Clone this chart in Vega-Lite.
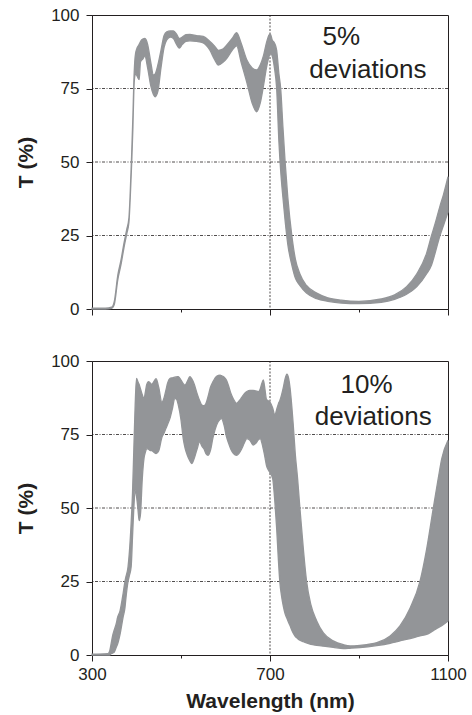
{
  "$schema": "https://vega.github.io/schema/vega-lite/v6.json",
  "background": "white",
  "padding": {"left": 15, "top": 5, "right": 0, "bottom": 0},
  "bounds": "flush",
  "spacing": 52,
  "config": {
    "font": "Liberation Sans",
    "view": {"stroke": "#231f20", "strokeWidth": 1},
    "axis": {
      "grid": false,
      "domainColor": "#231f20",
      "tickColor": "#231f20",
      "labelColor": "#231f20",
      "titleColor": "#231f20",
      "labelFontSize": 17,
      "titleFontSize": 21,
      "titleFontWeight": "bold",
      "labelFont": "Liberation Sans",
      "titleFont": "Liberation Sans"
    },
    "scale": {"zero": false}
  },
  "datasets": {
    "top": [
      {"wl": 300, "lo": 0, "hi": 0.3},
      {"wl": 330, "lo": 0, "hi": 0.3},
      {"wl": 344, "lo": 0.2, "hi": 0.6},
      {"wl": 350, "lo": 1.5, "hi": 2.5},
      {"wl": 358, "lo": 10, "hi": 11.5},
      {"wl": 365, "lo": 15, "hi": 16.5},
      {"wl": 372, "lo": 21, "hi": 22.5},
      {"wl": 378, "lo": 25.5, "hi": 27},
      {"wl": 383, "lo": 29.5, "hi": 31},
      {"wl": 386, "lo": 38, "hi": 40},
      {"wl": 389, "lo": 49, "hi": 52},
      {"wl": 392, "lo": 62, "hi": 66},
      {"wl": 394, "lo": 74, "hi": 77},
      {"wl": 396, "lo": 79, "hi": 84},
      {"wl": 398, "lo": 80, "hi": 87},
      {"wl": 402, "lo": 79, "hi": 89},
      {"wl": 406, "lo": 78, "hi": 90},
      {"wl": 409, "lo": 84, "hi": 91},
      {"wl": 414, "lo": 85, "hi": 91.8},
      {"wl": 419, "lo": 86, "hi": 92},
      {"wl": 425, "lo": 82, "hi": 90},
      {"wl": 432, "lo": 76, "hi": 84},
      {"wl": 438, "lo": 73, "hi": 79.6},
      {"wl": 442, "lo": 72.2, "hi": 80},
      {"wl": 448, "lo": 74, "hi": 83},
      {"wl": 455, "lo": 82, "hi": 88},
      {"wl": 462, "lo": 89, "hi": 93},
      {"wl": 468, "lo": 91.5, "hi": 94.3},
      {"wl": 476, "lo": 92.5, "hi": 94.6},
      {"wl": 483, "lo": 92, "hi": 94.6},
      {"wl": 490, "lo": 90, "hi": 93.5},
      {"wl": 496, "lo": 88.7, "hi": 92},
      {"wl": 503, "lo": 90, "hi": 92.5},
      {"wl": 511, "lo": 91, "hi": 93.3},
      {"wl": 520, "lo": 91.2, "hi": 93.4},
      {"wl": 535, "lo": 91, "hi": 93},
      {"wl": 550, "lo": 90.5, "hi": 92.7},
      {"wl": 565, "lo": 88, "hi": 91},
      {"wl": 575, "lo": 85, "hi": 89.5},
      {"wl": 584, "lo": 83, "hi": 88},
      {"wl": 595, "lo": 84, "hi": 88.5},
      {"wl": 603, "lo": 85.3, "hi": 89.8},
      {"wl": 615, "lo": 88, "hi": 92},
      {"wl": 625, "lo": 89.5, "hi": 94},
      {"wl": 635, "lo": 84, "hi": 90.5},
      {"wl": 648, "lo": 77, "hi": 84.7},
      {"wl": 660, "lo": 70, "hi": 82},
      {"wl": 670, "lo": 67.1, "hi": 81.3},
      {"wl": 678, "lo": 70, "hi": 83},
      {"wl": 685, "lo": 75.6, "hi": 86},
      {"wl": 692, "lo": 82, "hi": 90.5},
      {"wl": 698, "lo": 86, "hi": 93.2},
      {"wl": 701, "lo": 87, "hi": 93.5},
      {"wl": 705, "lo": 86, "hi": 91.5},
      {"wl": 710, "lo": 82, "hi": 90.5},
      {"wl": 715, "lo": 75, "hi": 88},
      {"wl": 720, "lo": 57, "hi": 80},
      {"wl": 724, "lo": 47, "hi": 75},
      {"wl": 729, "lo": 38, "hi": 62},
      {"wl": 734, "lo": 30, "hi": 50},
      {"wl": 740, "lo": 22, "hi": 38},
      {"wl": 749, "lo": 15, "hi": 25},
      {"wl": 757, "lo": 10.5, "hi": 17},
      {"wl": 767, "lo": 8, "hi": 12},
      {"wl": 782, "lo": 5.4, "hi": 8},
      {"wl": 805, "lo": 3.5, "hi": 5.4},
      {"wl": 830, "lo": 2.6, "hi": 3.8},
      {"wl": 860, "lo": 2.0, "hi": 3.0},
      {"wl": 900, "lo": 1.8, "hi": 2.6},
      {"wl": 950, "lo": 2.3, "hi": 3.4},
      {"wl": 980, "lo": 3.3, "hi": 4.8},
      {"wl": 1007, "lo": 5, "hi": 7.6},
      {"wl": 1030, "lo": 7.6, "hi": 12},
      {"wl": 1052, "lo": 12, "hi": 19},
      {"wl": 1063, "lo": 15, "hi": 25},
      {"wl": 1071, "lo": 19, "hi": 29},
      {"wl": 1082, "lo": 25, "hi": 35},
      {"wl": 1090, "lo": 28.5, "hi": 39},
      {"wl": 1100, "lo": 33, "hi": 45}
    ],
    "bottom": [
      {"wl": 300, "lo": 0, "hi": 0.3},
      {"wl": 336, "lo": 0, "hi": 0.5},
      {"wl": 340, "lo": 0, "hi": 1.5},
      {"wl": 342, "lo": 0.3, "hi": 3},
      {"wl": 347, "lo": 0.7, "hi": 7},
      {"wl": 350, "lo": 1, "hi": 8.5},
      {"wl": 355, "lo": 2.8, "hi": 11},
      {"wl": 357, "lo": 3.5, "hi": 12.5},
      {"wl": 363, "lo": 7, "hi": 15},
      {"wl": 370, "lo": 13, "hi": 21},
      {"wl": 374, "lo": 16, "hi": 25},
      {"wl": 376, "lo": 19, "hi": 26.5},
      {"wl": 381, "lo": 25, "hi": 30},
      {"wl": 384, "lo": 27, "hi": 35},
      {"wl": 388, "lo": 30, "hi": 45},
      {"wl": 391, "lo": 40, "hi": 55},
      {"wl": 394, "lo": 50, "hi": 70},
      {"wl": 397, "lo": 56, "hi": 85},
      {"wl": 400, "lo": 54, "hi": 94.1},
      {"wl": 403, "lo": 50, "hi": 93},
      {"wl": 406, "lo": 45.7, "hi": 92},
      {"wl": 409, "lo": 48, "hi": 90.5},
      {"wl": 413, "lo": 60, "hi": 88.5},
      {"wl": 417, "lo": 67, "hi": 87.3},
      {"wl": 420, "lo": 69, "hi": 89.5},
      {"wl": 423, "lo": 70.2, "hi": 92},
      {"wl": 427, "lo": 70, "hi": 93},
      {"wl": 431, "lo": 69.5, "hi": 92.5},
      {"wl": 434, "lo": 69.5, "hi": 92},
      {"wl": 439, "lo": 69, "hi": 93},
      {"wl": 444, "lo": 68.5, "hi": 94},
      {"wl": 450, "lo": 69.5, "hi": 91},
      {"wl": 457, "lo": 74, "hi": 86},
      {"wl": 462, "lo": 75.5, "hi": 87.5},
      {"wl": 466, "lo": 77, "hi": 90},
      {"wl": 470, "lo": 78.5, "hi": 92.5},
      {"wl": 475, "lo": 80.4, "hi": 94},
      {"wl": 481, "lo": 84, "hi": 94.3},
      {"wl": 486, "lo": 87.3, "hi": 94.5},
      {"wl": 490, "lo": 87, "hi": 94.6},
      {"wl": 494, "lo": 85, "hi": 94.7},
      {"wl": 500, "lo": 80, "hi": 93.5},
      {"wl": 505, "lo": 73.6, "hi": 92.3},
      {"wl": 509, "lo": 70.5, "hi": 91.8},
      {"wl": 514, "lo": 68, "hi": 93},
      {"wl": 520, "lo": 66, "hi": 94.7},
      {"wl": 524, "lo": 65.1, "hi": 94},
      {"wl": 530, "lo": 67, "hi": 92},
      {"wl": 536, "lo": 70, "hi": 89},
      {"wl": 542, "lo": 72.5, "hi": 86.5},
      {"wl": 547, "lo": 71, "hi": 85},
      {"wl": 552, "lo": 70, "hi": 84.8},
      {"wl": 556, "lo": 68.5, "hi": 85.5},
      {"wl": 561, "lo": 67.9, "hi": 88},
      {"wl": 566, "lo": 69.5, "hi": 91},
      {"wl": 572, "lo": 74, "hi": 93},
      {"wl": 580, "lo": 78.2, "hi": 94.8},
      {"wl": 588, "lo": 80.2, "hi": 95.2},
      {"wl": 591, "lo": 80.4, "hi": 95},
      {"wl": 597, "lo": 78, "hi": 94.5},
      {"wl": 602, "lo": 74.4, "hi": 93.5},
      {"wl": 607, "lo": 72, "hi": 91.5},
      {"wl": 612, "lo": 70, "hi": 89},
      {"wl": 618, "lo": 68.5, "hi": 87},
      {"wl": 625, "lo": 67.9, "hi": 85.6},
      {"wl": 630, "lo": 68.5, "hi": 86.3},
      {"wl": 636, "lo": 70, "hi": 87.5},
      {"wl": 642, "lo": 72, "hi": 88.8},
      {"wl": 648, "lo": 73.6, "hi": 89.6},
      {"wl": 655, "lo": 73, "hi": 90},
      {"wl": 662, "lo": 71.4, "hi": 90},
      {"wl": 668, "lo": 72, "hi": 89.8},
      {"wl": 674, "lo": 73.2, "hi": 89.6},
      {"wl": 678, "lo": 73.6, "hi": 90.5},
      {"wl": 682, "lo": 72, "hi": 92.5},
      {"wl": 685, "lo": 70, "hi": 93.6},
      {"wl": 689, "lo": 67, "hi": 90},
      {"wl": 692, "lo": 64.5, "hi": 87},
      {"wl": 696, "lo": 63, "hi": 86.5},
      {"wl": 700, "lo": 62, "hi": 86},
      {"wl": 706, "lo": 60, "hi": 84},
      {"wl": 711, "lo": 52, "hi": 81.6},
      {"wl": 715, "lo": 43, "hi": 83.5},
      {"wl": 719, "lo": 32, "hi": 85.5},
      {"wl": 722, "lo": 25, "hi": 86.5},
      {"wl": 726, "lo": 20, "hi": 88.5},
      {"wl": 730, "lo": 16.5, "hi": 91},
      {"wl": 734, "lo": 14, "hi": 94},
      {"wl": 738, "lo": 12.5, "hi": 95.5},
      {"wl": 742, "lo": 11, "hi": 94},
      {"wl": 745, "lo": 10, "hi": 91},
      {"wl": 747, "lo": 9.2, "hi": 88},
      {"wl": 752, "lo": 7.5, "hi": 78.8},
      {"wl": 757, "lo": 6.3, "hi": 68},
      {"wl": 762, "lo": 5.6, "hi": 60},
      {"wl": 767, "lo": 5, "hi": 50.3},
      {"wl": 775, "lo": 4.5, "hi": 36},
      {"wl": 782, "lo": 4.1, "hi": 25.3},
      {"wl": 792, "lo": 3.6, "hi": 17},
      {"wl": 805, "lo": 3.3, "hi": 11.6},
      {"wl": 820, "lo": 3.0, "hi": 7.5},
      {"wl": 842, "lo": 2.6, "hi": 4.8},
      {"wl": 865, "lo": 2.2, "hi": 3.5},
      {"wl": 880, "lo": 2.3, "hi": 3.1},
      {"wl": 902, "lo": 2.5, "hi": 3.3},
      {"wl": 940, "lo": 3.2, "hi": 4.2},
      {"wl": 970, "lo": 4.0, "hi": 6.5},
      {"wl": 992, "lo": 4.8, "hi": 9.9},
      {"wl": 1015, "lo": 5.6, "hi": 16},
      {"wl": 1037, "lo": 6.5, "hi": 25},
      {"wl": 1052, "lo": 7, "hi": 36},
      {"wl": 1067, "lo": 8.3, "hi": 50},
      {"wl": 1078, "lo": 9.3, "hi": 60},
      {"wl": 1086, "lo": 10, "hi": 66.8},
      {"wl": 1100, "lo": 11.6, "hi": 73}
    ]
  },
  "vconcat": [
    {
      "width": 356,
      "height": 294,
      "layer": [
        {
          "data": {"values": [{"v": 25}, {"v": 50}, {"v": 75}]},
          "mark": {"type": "rule", "color": "#231f20", "strokeWidth": 0.8, "strokeDash": [3, 1.5, 1, 1.5]},
          "encoding": {"y": {"field": "v", "type": "quantitative", "scale": {"domain": [0, 100], "nice": false, "zero": false}}}
        },
        {
          "data": {"values": [{"v": 700}]},
          "mark": {"type": "rule", "color": "#231f20", "strokeWidth": 0.8, "strokeDash": [2, 1.5]},
          "encoding": {"x": {"field": "v", "type": "quantitative", "scale": {"domain": [300, 1100], "nice": false, "zero": false}}}
        },
        {
          "data": {"name": "top"},
          "mark": {"type": "area", "color": "#939598", "stroke": "#939598", "strokeWidth": 1.3, "interpolate": "monotone", "opacity": 1},
          "encoding": {
            "x": {"field": "wl", "type": "quantitative", "scale": {"domain": [300, 1100], "nice": false, "zero": false},
              "axis": {"values": [300, 500, 700, 900, 1100], "labels": false, "title": null,
                "tickSize": {"condition": {"test": "datum.value == 500 || datum.value == 900", "value": 3}, "value": 6}}},
            "y": {"field": "lo", "type": "quantitative", "scale": {"domain": [0, 100], "nice": false, "zero": false},
              "axis": {"values": [0, 12.5, 25, 37.5, 50, 62.5, 75, 87.5, 100], "labelExpr": "datum.value % 25 == 0 ? datum.label : ''",
                "tickSize": {"condition": {"test": "datum.value % 25 == 0", "value": 6}, "value": 3},
                "labelPadding": 7, "title": "T (%)", "titlePadding": 14}},
            "y2": {"field": "hi"}
          }
        },
        {
          "data": {"values": [{"t": "5%"}]},
          "mark": {"type": "text", "fontSize": 26, "font": "Liberation Sans", "color": "#231f20", "align": "center", "baseline": "alphabetic"},
          "encoding": {"x": {"datum": 860}, "y": {"datum": 89.8}, "text": {"field": "t"}}
        },
        {
          "data": {"values": [{"t": "deviations"}]},
          "mark": {"type": "text", "fontSize": 26, "font": "Liberation Sans", "color": "#231f20", "align": "center", "baseline": "alphabetic"},
          "encoding": {"x": {"datum": 920}, "y": {"datum": 78.5}, "text": {"field": "t"}}
        }
      ]
    },
    {
      "width": 356,
      "height": 294,
      "layer": [
        {
          "data": {"values": [{"v": 25}, {"v": 50}, {"v": 75}]},
          "mark": {"type": "rule", "color": "#231f20", "strokeWidth": 0.8, "strokeDash": [3, 1.5, 1, 1.5]},
          "encoding": {"y": {"field": "v", "type": "quantitative", "scale": {"domain": [0, 100], "nice": false, "zero": false}}}
        },
        {
          "data": {"values": [{"v": 700}]},
          "mark": {"type": "rule", "color": "#231f20", "strokeWidth": 0.8, "strokeDash": [2, 1.5]},
          "encoding": {"x": {"field": "v", "type": "quantitative", "scale": {"domain": [300, 1100], "nice": false, "zero": false}}}
        },
        {
          "data": {"name": "bottom"},
          "mark": {"type": "area", "color": "#939598", "stroke": "#939598", "strokeWidth": 1.3, "interpolate": "monotone", "opacity": 1},
          "encoding": {
            "x": {"field": "wl", "type": "quantitative", "scale": {"domain": [300, 1100], "nice": false, "zero": false},
              "axis": {"values": [300, 500, 700, 900, 1100], "format": "d", "labelExpr": "datum.value == 500 || datum.value == 900 ? '' : datum.label",
                "labelPadding": 5, "labelFlush": false, "title": "Wavelength (nm)", "titlePadding": 8,
                "tickSize": {"condition": {"test": "datum.value == 500 || datum.value == 900", "value": 3}, "value": 6}}},
            "y": {"field": "lo", "type": "quantitative", "scale": {"domain": [0, 100], "nice": false, "zero": false},
              "axis": {"values": [0, 12.5, 25, 37.5, 50, 62.5, 75, 87.5, 100], "labelExpr": "datum.value % 25 == 0 ? datum.label : ''",
                "tickSize": {"condition": {"test": "datum.value % 25 == 0", "value": 6}, "value": 3},
                "labelPadding": 7, "title": "T (%)", "titlePadding": 14}},
            "y2": {"field": "hi"}
          }
        },
        {
          "data": {"values": [{"t": "10%"}]},
          "mark": {"type": "text", "fontSize": 26, "font": "Liberation Sans", "color": "#231f20", "align": "center", "baseline": "alphabetic"},
          "encoding": {"x": {"datum": 917}, "y": {"datum": 89}, "text": {"field": "t"}}
        },
        {
          "data": {"values": [{"t": "deviations"}]},
          "mark": {"type": "text", "fontSize": 26, "font": "Liberation Sans", "color": "#231f20", "align": "center", "baseline": "alphabetic"},
          "encoding": {"x": {"datum": 932}, "y": {"datum": 78.2}, "text": {"field": "t"}}
        }
      ]
    }
  ]
}
